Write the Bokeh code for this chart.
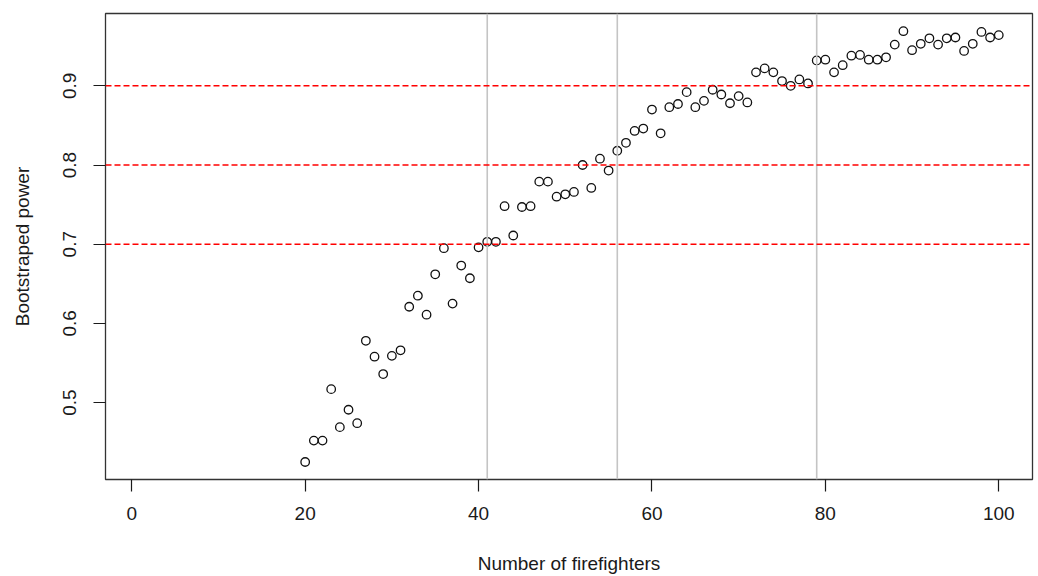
from bokeh.plotting import figure
from bokeh.models import Range1d, FixedTicker, Span
from bokeh.embed import file_html
from bokeh.resources import INLINE

# ---- data ----
firefighters = list(range(20, 101))
power = [
    0.425, 0.452, 0.452, 0.517, 0.469, 0.491, 0.474, 0.578, 0.558, 0.536,  # 20-29
    0.559, 0.566, 0.621, 0.635, 0.611, 0.662, 0.695, 0.625, 0.673, 0.657,  # 30-39
    0.696, 0.703, 0.703, 0.748, 0.711, 0.747, 0.748, 0.779, 0.779, 0.760,  # 40-49
    0.763, 0.766, 0.800, 0.771, 0.808, 0.793, 0.818, 0.828, 0.843, 0.846,  # 50-59
    0.870, 0.840, 0.873, 0.877, 0.892, 0.873, 0.881, 0.895, 0.889, 0.878,  # 60-69
    0.887, 0.879, 0.917, 0.922, 0.917, 0.906, 0.900, 0.908, 0.903, 0.932,  # 70-79
    0.933, 0.917, 0.926, 0.938, 0.939, 0.933, 0.933, 0.936, 0.952, 0.969,  # 80-89
    0.945, 0.953, 0.960, 0.952, 0.960, 0.961, 0.944, 0.953, 0.968, 0.961,  # 90-99
    0.964,                                                                 # 100
]
power_thresholds = [0.7, 0.8, 0.9]
crossing_points = [41, 56, 79]
x_ticks = [0, 20, 40, 60, 80, 100]
y_ticks = [0.5, 0.6, 0.7, 0.8, 0.9]

FONT = "Liberation Sans"

p = figure(
    width=1036, height=576,
    x_range=Range1d(-3.03, 103.89),
    y_range=Range1d(0.4029, 0.9913),
    output_backend="svg", toolbar_location=None,
    min_border_left=105, min_border_right=4, min_border_top=13, min_border_bottom=97,
)
p.background_fill_color = "white"
p.border_fill_color = "white"
p.outline_line_color = "#333333"
p.outline_line_width = 1.3
p.xgrid.visible = False
p.ygrid.visible = False

for v in crossing_points:
    p.add_layout(Span(location=v, dimension="height", line_color="#c4c4c4", line_width=1.6))
for t in power_thresholds:
    p.add_layout(Span(location=t, dimension="width", line_color="#ff0000",
                      line_width=1.5, line_dash="6 3"))

p.scatter(firefighters, power, marker="circle", size=8.5,
          fill_color=None, line_color="#111111", line_width=1.3)

for ax in (p.xaxis, p.yaxis):
    ax.axis_line_color = None
    ax.major_tick_line_color = "#1a1a1a"
    ax.major_tick_line_width = 1.2
    ax.major_tick_out = 12
    ax.major_tick_in = 0
    ax.minor_tick_line_color = None
    ax.major_label_text_font = FONT
    ax.major_label_text_font_size = "19px"
    ax.major_label_text_color = "#1a1a1a"
    ax.axis_label_text_font = FONT
    ax.axis_label_text_font_size = "19px"
    ax.axis_label_text_font_style = "normal"
    ax.axis_label_text_color = "#1a1a1a"

p.xaxis.ticker = FixedTicker(ticks=x_ticks)
p.yaxis.ticker = FixedTicker(ticks=y_ticks)
p.xaxis.axis_label = "Number of firefighters"
p.yaxis.axis_label = "Bootstraped power"
p.yaxis.major_label_orientation = "vertical"
p.xaxis.major_label_standoff = 15
p.yaxis.major_label_standoff = 17
p.xaxis.axis_label_standoff = 30
p.yaxis.axis_label_standoff = 28

open("out.html", "w").write(file_html(p, INLINE))
